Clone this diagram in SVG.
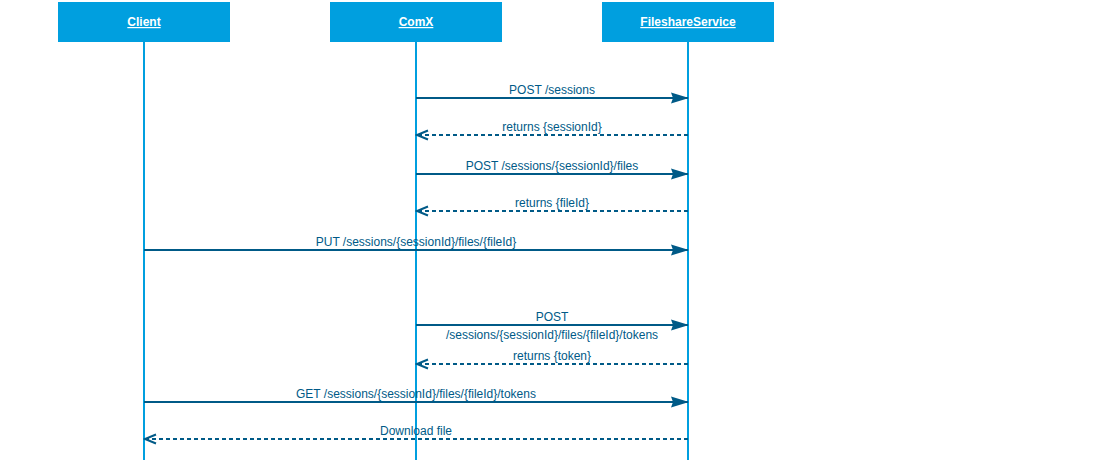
<svg xmlns="http://www.w3.org/2000/svg" width="1104" height="462" viewBox="0 0 1104 462">
<style>
.box{fill:#009fdf;stroke:none}
.hdr{font-family:"Liberation Sans",Arial,sans-serif;font-size:12px;font-weight:bold;fill:#ffffff;text-anchor:middle;text-decoration:underline}
.life{stroke:#009fdf;stroke-width:2;fill:none}
.msg{stroke:#005a87;stroke-width:2;fill:none}
.ret{stroke:#005a87;stroke-width:2;fill:none;stroke-dasharray:4 3}
.lbl{font-family:"Liberation Sans",Arial,sans-serif;font-size:12px;fill:#005a87;text-anchor:middle}
</style>
<defs>
<marker id="solid" markerWidth="18" markerHeight="12" refX="17" refY="6" orient="auto" markerUnits="userSpaceOnUse">
<path d="M0,0.5 L18,6 L0,11.5 L2,6 Z" fill="#005a87"/>
</marker>
<marker id="open" markerWidth="14" markerHeight="12" refX="12" refY="6" orient="auto" markerUnits="userSpaceOnUse">
<path d="M1,1.5 L12,6 L1,10.5" fill="none" stroke="#005a87" stroke-width="2"/>
</marker>
</defs>
<rect width="1104" height="462" fill="#ffffff"/>
<g id="lifelines">
<line class="life" x1="144" y1="42" x2="144" y2="460"/>
<line class="life" x1="416" y1="42" x2="416" y2="460"/>
<line class="life" x1="688" y1="42" x2="688" y2="460"/>
</g>
<g id="node-client"><rect class="box" x="58" y="2" width="172" height="40"/><text class="hdr" x="144" y="26">Client</text></g>
<g id="node-comx"><rect class="box" x="330" y="2" width="172" height="40"/><text class="hdr" x="416" y="26">ComX</text></g>
<g id="node-fileshare"><rect class="box" x="602" y="2" width="172" height="40"/><text class="hdr" x="688" y="26">FileshareService</text></g>
<g id="connectors">
<line class="msg" x1="416" y1="98" x2="688" y2="98" marker-end="url(#solid)"/>
<text class="lbl" x="552" y="94">POST /sessions</text>
<line class="ret" x1="688" y1="135" x2="417" y2="135" marker-end="url(#open)"/>
<text class="lbl" x="552" y="131">returns {sessionId}</text>
<line class="msg" x1="416" y1="174" x2="688" y2="174" marker-end="url(#solid)"/>
<text class="lbl" x="552" y="170">POST /sessions/{sessionId}/files</text>
<line class="ret" x1="688" y1="211" x2="417" y2="211" marker-end="url(#open)"/>
<text class="lbl" x="552" y="207">returns {fileId}</text>
<line class="msg" x1="144" y1="250" x2="688" y2="250" marker-end="url(#solid)"/>
<text class="lbl" x="416" y="246">PUT /sessions/{sessionId}/files/{fileId}</text>
<line class="msg" x1="416" y1="325" x2="688" y2="325" marker-end="url(#solid)"/>
<text class="lbl" x="552" y="321">POST</text>
<text class="lbl" x="552" y="339">/sessions/{sessionId}/files/{fileId}/tokens</text>
<line class="ret" x1="688" y1="364" x2="417" y2="364" marker-end="url(#open)"/>
<text class="lbl" x="552" y="360">returns {token}</text>
<line class="msg" x1="144" y1="402" x2="688" y2="402" marker-end="url(#solid)"/>
<text class="lbl" x="416" y="398">GET /sessions/{sessionId}/files/{fileId}/tokens</text>
<line class="ret" x1="688" y1="439" x2="145" y2="439" marker-end="url(#open)"/>
<text class="lbl" x="416" y="435">Download file</text>
</g>
</svg>
